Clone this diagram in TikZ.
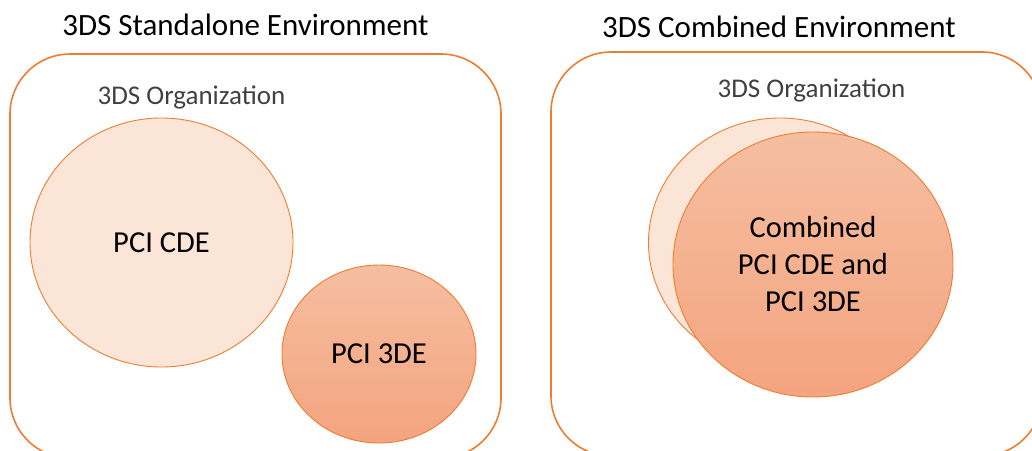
\documentclass[tikz,border=0pt]{standalone}
\usepackage{fontspec}
\setmainfont{Carlito}
\usetikzlibrary{shapes.geometric,positioning}

\definecolor{envorange}{RGB}{237,125,49}
\definecolor{cdefill}{RGB}{251,229,214}
\definecolor{tdetop}{RGB}{245,190,161}
\definecolor{tdebottom}{RGB}{244,164,127}
\definecolor{orgtext}{RGB}{64,64,64}

\begin{document}
\begin{tikzpicture}[x=1pt,y=1pt,
    env/.style={draw=envorange, line width=1.6pt, rounded corners=60pt,
      minimum width=491pt, minimum height=404pt},
    title/.style={font=\fontsize{31}{36}\selectfont},
    org/.style={text=orgtext, font=\fontsize{27}{32}\selectfont},
    cde/.style={ellipse, draw=envorange, line width=0.9pt, fill=cdefill,
      inner sep=0pt, font=\fontsize{30.5}{36}\selectfont},
    tde/.style={ellipse, draw=envorange, line width=0.9pt,
      top color=tdetop, bottom color=tdebottom, inner sep=0pt,
      font=\fontsize{30.5}{37}\selectfont, align=center}]

  \useasboundingbox (0,0) rectangle (1032,-450);
  \clip (0,0) rectangle (1032,-450);

  % Environments
  \node[env] (stand) at (255.5,-256) {};
  \node[env] (comb) at (796.5,-254) {};
  \node[title] (standtitle) at (245.5,-25) {3DS Standalone Environment};
  \node[title] (combtitle) at (779,-27) {3DS Combined Environment};

  % Standalone environment
  \node[org] (standorg) at (191.5,-97) {3DS Organization};
  \node[cde, minimum width=263pt, minimum height=249pt] (cde) at (161.5,-242.5) {PCI CDE};
  \node[tde, minimum width=194pt, minimum height=178pt] (tde) at (379,-354) {PCI 3DE};

  % Combined environment
  \node[org] (comborg) at (811.5,-90) {3DS Organization};
  \node[cde, minimum width=263pt, minimum height=249pt] (cdeback) at (780,-242.5) {};
  \node[tde, minimum width=280pt, minimum height=265pt] (both) at (813,-264.5)
    {Combined\\PCI CDE and\\PCI 3DE};

\end{tikzpicture}
\end{document}
